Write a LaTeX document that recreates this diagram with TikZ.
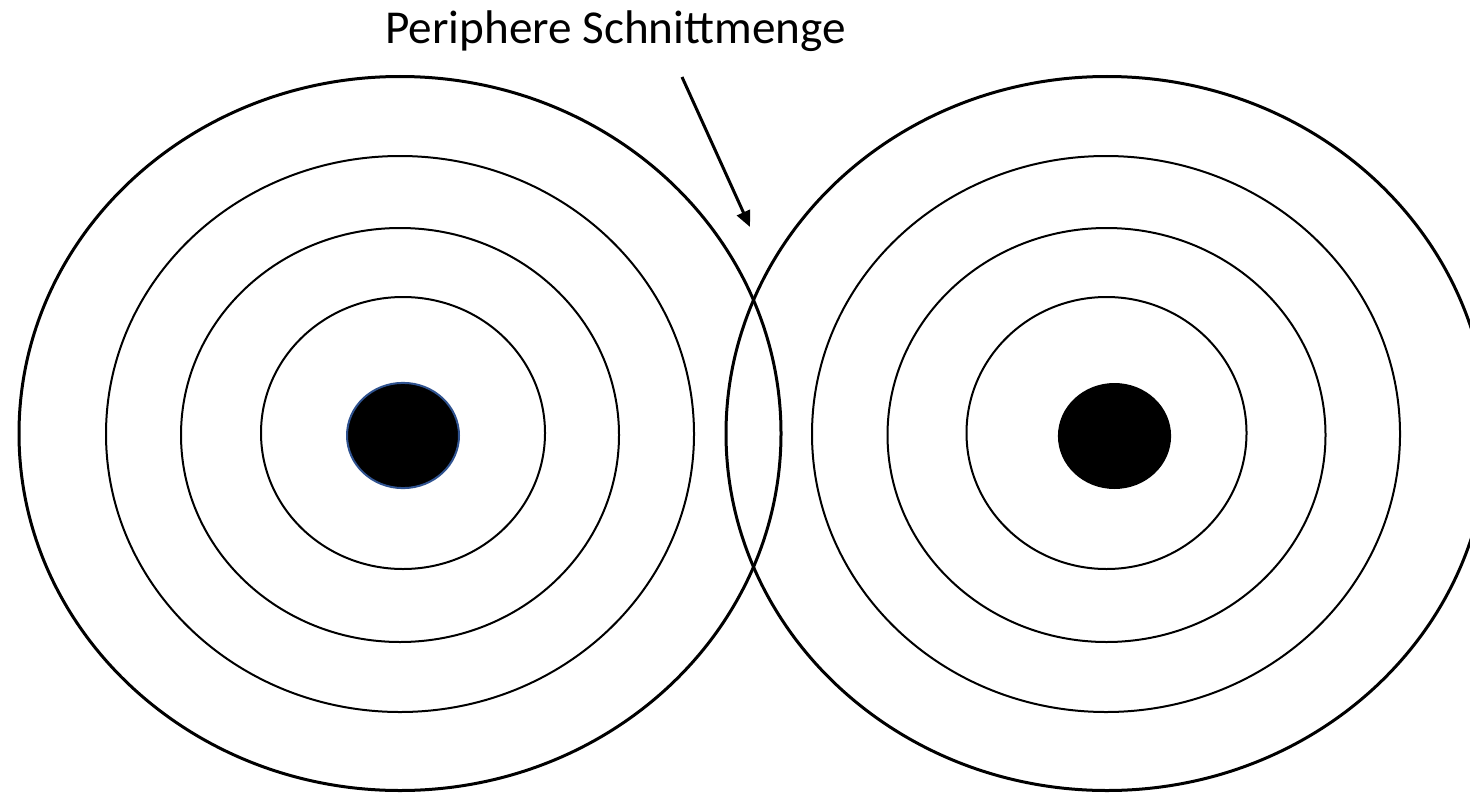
\documentclass[tikz,border=0pt]{standalone}
\usepackage{fontspec}
\setmainfont{Carlito}
\usetikzlibrary{arrows.meta}
\definecolor{dotborder}{HTML}{2F528F}
\tikzset{
  outerring/.style={draw=black, line width=1.5pt},
  innerring/.style={draw=black, line width=1pt},
  pointer/.style={draw=black, line width=1.5pt, -{Triangle[length=8pt,width=7pt]}},
}
\begin{document}
\begin{tikzpicture}[x=0.5pt,y=-0.5pt]
\useasboundingbox (0,0) rectangle (1470,792);
\clip (0,0) rectangle (1470,792);
\fill[white] (0,0) rectangle (1470,792);
% left target
\draw[outerring] (400,433.5) ellipse [x radius=190.5pt, y radius=178.5pt];
\draw[innerring] (400,434) ellipse [x radius=147pt, y radius=139pt];
\draw[innerring] (400,435) ellipse [x radius=109.5pt, y radius=103.5pt];
\draw[innerring] (403,433) ellipse [x radius=71pt, y radius=68pt];
\fill[black, draw=dotborder, line width=1pt] (403,435.5) ellipse [x radius=28pt, y radius=26.3pt];
% right target
\draw[outerring] (1107,433.5) ellipse [x radius=190.5pt, y radius=178.5pt];
\draw[innerring] (1106,434) ellipse [x radius=147pt, y radius=139pt];
\draw[innerring] (1106.5,435) ellipse [x radius=109.5pt, y radius=103.5pt];
\draw[innerring] (1106.5,433) ellipse [x radius=70pt, y radius=68pt];
\fill[black] (1114.5,436) ellipse [x radius=28.3pt, y radius=26.5pt];
% label and arrow
\node[anchor=base, font=\fontsize{23.6pt}{28pt}\selectfont, inner sep=0pt] (label) at (615.5,44) {Periphere Schnittmenge};
\coordinate (arrowstart) at (682,77);
\coordinate (arrowend) at (750,227);
\draw[pointer] (arrowstart) -- (arrowend);
\end{tikzpicture}
\end{document}
